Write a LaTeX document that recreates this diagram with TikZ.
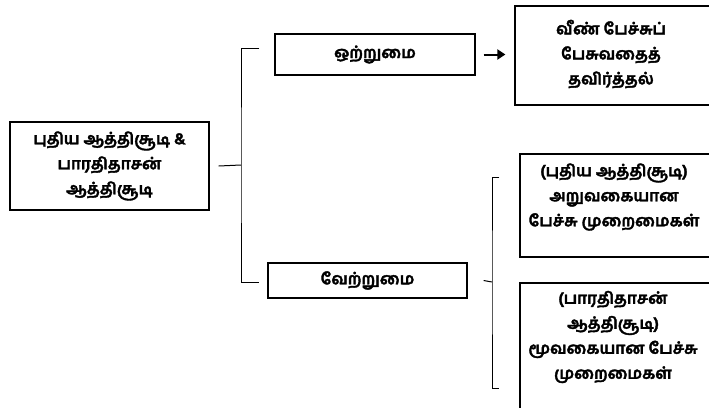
\documentclass[tikz,border=0pt]{standalone}
\usepackage{fontspec}
\newfontfamily\tamil[Script=Tamil, FakeBold=2.2]{Hind Madurai}
\usetikzlibrary{positioning,arrows.meta}
\tikzset{
  frame/.style={draw, line width=1.2pt, inner sep=0pt},
  words/.style={align=center, inner sep=0pt,
    font=\tamil\bfseries\fontsize{16}{25}\selectfont},
  brace/.style={line width=1pt},
}

\begin{document}
\begin{tikzpicture}[x=1pt,y=-1pt]
  \useasboundingbox (0,0) rectangle (709,407);
  % draw frames
  \node[frame, minimum width=199pt, minimum height=88pt] (main) at (109.5,166) {};
  \node[frame, minimum width=200pt, minimum height=41pt] (oru) at (375,54.5) {};
  \node[frame, minimum width=197pt, minimum height=99pt] (veen) at (613.5,55.5) {};
  \node[frame, minimum width=199pt, minimum height=35pt] (veru) at (367.5,280.5) {};
  \node[frame, minimum width=192pt, minimum height=103pt] (aru) at (616,205.5) {};
  \node[frame, minimum width=192pt, minimum height=140pt] (moo) at (616,353) {};
  % draw texts
  \node[words] (maintext) at (109.5,166) {புதிய ஆத்திசூடி \&\\பாரதிதாசன்\\ஆத்திசூடி};
  \node[words] (orutext) at (oru) {ஒற்றுமை};
  \node[words] (veentext) at (611,54) {வீண் பேச்சுப்\\பேசுவதைத்\\தவிர்த்தல்};
  \node[words] (verutext) at (veru) {வேற்றுமை};
  \node[words] (arutext) at (614,197) {(புதிய ஆத்திசூடி)\\அறுவகையான\\பேச்சு முறைமைகள்};
  \node[words] (mootext) at (613,337) {(பாரதிதாசன்\\ஆத்திசூடி)\\மூவகையான பேச்சு\\முறைமைகள்};
  % draw arrow
  \draw[-{Triangle[length=8pt,width=10pt]}, line width=2pt, shorten <=8pt, shorten >=9pt]
       (oru.east) -- (veen.west |- oru.east);
  % draw braces
  \coordinate (tipa) at (241,165);
  \coordinate (tipb) at (492,282);
  \draw[brace] ([xshift=-15pt]oru.west |- 0,48) -| (tipa) |- ([xshift=-8pt]veru.west |- 0,282);
  \draw[brace] ([xshift=9pt]main.east) -- (tipa);
  \draw[brace] ([xshift=-20pt]aru.west |- 0,177) -| (tipb) |- ([xshift=-20pt]moo.west |- 0,388);
  \draw[brace] ([xshift=16pt]veru.east) -- (tipb);
\end{tikzpicture}
\end{document}
